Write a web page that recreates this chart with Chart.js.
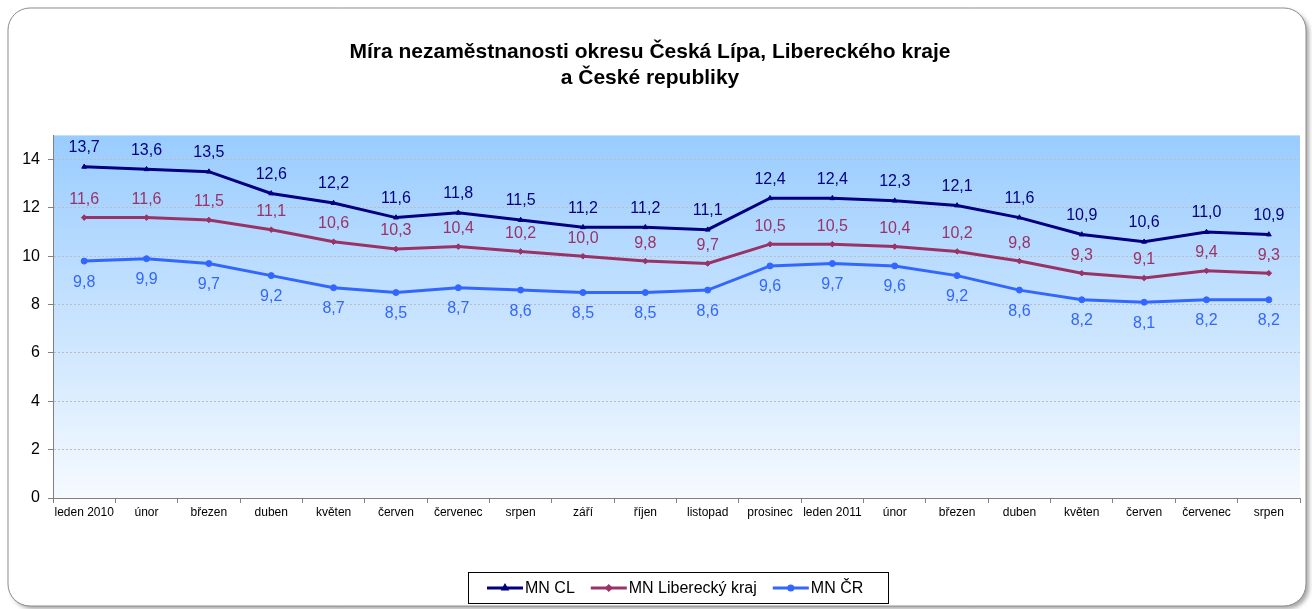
<!DOCTYPE html>
<html>
<head>
<meta charset="utf-8">
<script src="https://cdn.jsdelivr.net/npm/chart.js@4.4.0/dist/chart.umd.min.js"></script>
<style>
  html, body { margin: 0; padding: 0; background: #ffffff; }
  #wrap { position: relative; width: 1312px; height: 609px; }
</style>
</head>
<body>
<div id="wrap"><canvas id="c"></canvas></div>
<script>
const categories = ['leden 2010','únor','březen','duben','květen','červen','červenec','srpen','září','říjen','listopad','prosinec','leden 2011','únor','březen','duben','květen','červen','červenec','srpen'];
const mnCL = [13.7,13.6,13.5,12.6,12.2,11.6,11.8,11.5,11.2,11.2,11.1,12.4,12.4,12.3,12.1,11.6,10.9,10.6,11.0,10.9];
const mnLiberec = [11.6,11.6,11.5,11.1,10.6,10.3,10.4,10.2,10.0,9.8,9.7,10.5,10.5,10.4,10.2,9.8,9.3,9.1,9.4,9.3];
const mnCR = [9.8,9.9,9.7,9.2,8.7,8.5,8.7,8.6,8.5,8.5,8.6,9.6,9.7,9.6,9.2,8.6,8.2,8.1,8.2,8.2];
const seriesLabels = ['MN CL','MN Liberecký kraj','MN ČR'];
const yTickValues = [0,2,4,6,8,10,12,14];
const titleLines = ['Míra nezaměstnanosti okresu Česká Lípa, Libereckého kraje','a České republiky'];

const FONT = 'Liberation Sans, Arial, sans-serif';

const frame = {
  id: 'frame',
  beforeDraw(chart) {
    const ctx = chart.ctx;
    ctx.save();
    ctx.fillStyle = '#ffffff';
    ctx.fillRect(0, 0, chart.width, chart.height);
    const x = 8, y = 8, w = 1298, h = 598, r = 22;
    ctx.beginPath();
    ctx.roundRect(x, y, w, h, r);
    ctx.shadowColor = 'rgba(0,0,0,0.35)';
    ctx.shadowBlur = 4;
    ctx.shadowOffsetX = 3;
    ctx.shadowOffsetY = 3;
    ctx.fillStyle = '#ffffff';
    ctx.fill();
    ctx.shadowColor = 'transparent';
    ctx.lineWidth = 1;
    ctx.strokeStyle = '#8c8c8c';
    ctx.stroke();
    const a = chart.chartArea;
    const g = ctx.createLinearGradient(0, a.top, 0, a.bottom);
    g.addColorStop(0, '#99CCFF');
    g.addColorStop(1, '#F6FAFF');
    ctx.fillStyle = g;
    ctx.fillRect(a.left, a.top, a.right - a.left, a.bottom - a.top);
    ctx.restore();
  }
};

const labelsPlugin = {
  id: 'valueLabels',
  afterDatasetsDraw(chart) {
    const ctx = chart.ctx;
    ctx.save();
    ctx.font = '16px ' + FONT;
    ctx.textAlign = 'center';
    ctx.textBaseline = 'middle';
    chart.data.datasets.forEach((ds, i) => {
      const meta = chart.getDatasetMeta(i);
      ctx.fillStyle = ds.labelColor;
      meta.data.forEach((pt, j) => {
        const txt = ds.data[j].toFixed(1).replace('.', ',');
        ctx.fillText(txt, pt.x, pt.y + ds.labelOffset);
      });
    });
    ctx.restore();
  }
};

const legendPlugin = {
  id: 'boxLegend',
  afterDraw(chart) {
    const ctx = chart.ctx;
    ctx.save();
    const bx = 468, by = 572, bw = 420, bh = 31;
    ctx.fillStyle = '#ffffff';
    ctx.fillRect(bx, by, bw, bh);
    ctx.strokeStyle = '#000000';
    ctx.lineWidth = 1;
    ctx.strokeRect(bx + 0.5, by + 0.5, bw, bh);
    ctx.font = '16px ' + FONT;
    ctx.textBaseline = 'middle';
    ctx.textAlign = 'left';
    const cy = by + bh / 2 + 0.5;
    let x = bx + 19;
    chart.data.datasets.forEach((ds, i) => {
      ctx.strokeStyle = ds.borderColor;
      ctx.lineWidth = 3;
      ctx.beginPath();
      ctx.moveTo(x, cy);
      ctx.lineTo(x + 36, cy);
      ctx.stroke();
      ctx.fillStyle = ds.borderColor;
      Chart.helpers.drawPoint(ctx, {pointStyle: ds.pointStyle, radius: 2, borderWidth: 1}, x + 18, cy);
      ctx.fillStyle = '#000000';
      ctx.fillText(ds.label, x + 38, cy + 1);
      x += 38 + ctx.measureText(ds.label).width + 16;
    });
    ctx.restore();
  }
};

const mk = (label, data, color, pstyle, labelOffset, radius) => ({
  label, data,
  borderColor: color,
  backgroundColor: color,
  pointBackgroundColor: color,
  pointBorderColor: color,
  pointStyle: pstyle,
  pointRadius: radius,
  pointHoverRadius: radius,
  pointBorderWidth: 1,
  borderWidth: 3,
  tension: 0,
  labelColor: color,
  labelOffset
});

new Chart(document.getElementById('c'), {
  type: 'line',
  data: {
    labels: categories,
    datasets: [
      mk(seriesLabels[0], mnCL, '#000080', 'triangle', -19, 2.8),
      mk(seriesLabels[1], mnLiberec, '#993366', 'rectRot', -18, 2.8),
      mk(seriesLabels[2], mnCR, '#3366FF', 'circle', 21, 3)
    ]
  },
  options: {
    responsive: true,
    maintainAspectRatio: false,
    animation: false,
    events: [],
    layout: { padding: { left: 0, right: 12, top: 0, bottom: 37 } },
    plugins: {
      legend: { display: false },
      tooltip: { enabled: false },
      title: {
        display: true,
        text: titleLines,
        color: '#000000',
        font: { family: FONT, size: 21, weight: 'bold', lineHeight: 1.2 },
        padding: { top: 40, bottom: 45 }
      }
    },
    scales: {
      x: {
        offset: true,
        grid: { drawOnChartArea: false, offset: true, tickLength: 5, tickColor: '#808080' },
        border: { color: '#808080', width: 1 },
        ticks: { color: '#000000', font: { family: FONT, size: 12 }, maxRotation: 0, autoSkip: false, padding: 2 },
        afterFit(scale) { scale.height = 74; }
      },
      y: {
        min: 0, max: 15,
        grid: { color: '#bdbdbd', tickLength: 5, tickColor: '#808080', lineWidth: 1 },
        border: { color: '#808080', width: 1, dash: [2, 2] },
        ticks: { stepSize: 2, color: '#000000', font: { family: FONT, size: 16 }, padding: 8 },
        afterBuildTicks(scale) { scale.ticks = yTickValues.map(v => ({ value: v })); },
        afterFit(scale) { scale.width = 53; }
      }
    }
  },
  plugins: [frame, labelsPlugin, legendPlugin]
});
</script>
</body>
</html>
